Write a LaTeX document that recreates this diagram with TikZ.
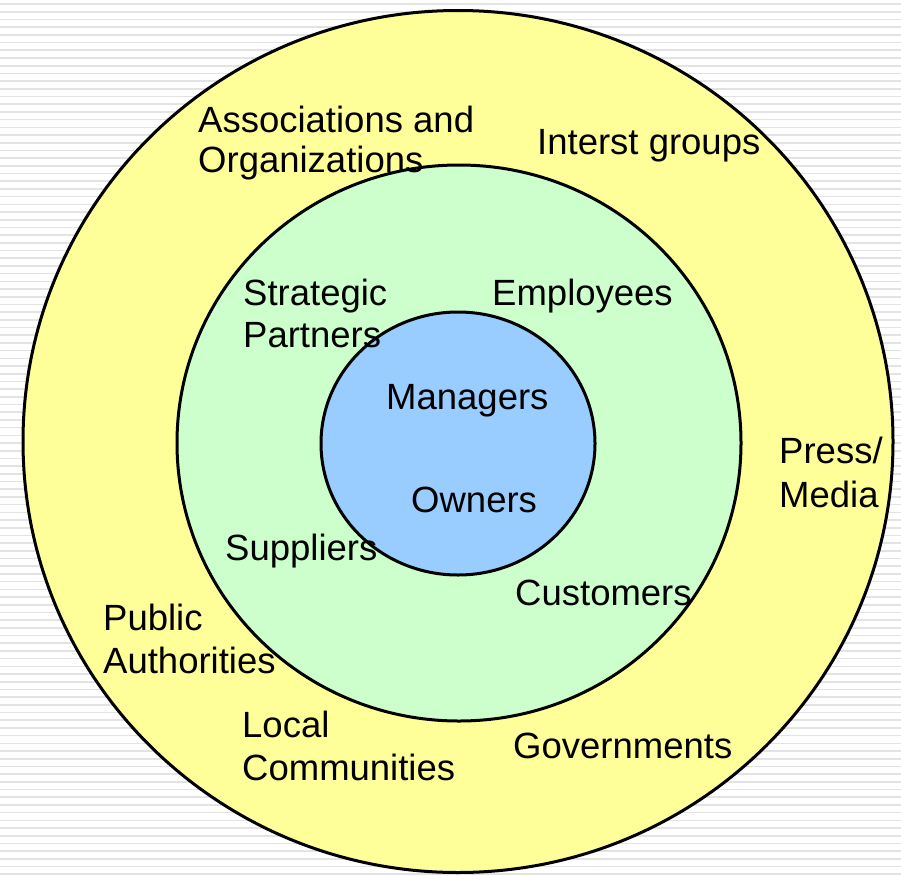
\documentclass[tikz,border=0pt]{standalone}
\usepackage{fontspec}
\setmainfont{Liberation Sans}
\definecolor{outerY}{HTML}{FFFF99}
\definecolor{midG}{HTML}{CCFFCC}
\definecolor{innerB}{HTML}{99CCFF}
\definecolor{stripe}{HTML}{E3E3E3}
\begin{document}
\begin{tikzpicture}[x=1pt,y=-1pt,
  ring/.style={draw=black,line width=3pt},
  lbl/.style={anchor=base west,inner sep=0pt,font=\fontsize{36.5}{40}\selectfont}]
\useasboundingbox (0,0) rectangle (901,875);
\fill[white] (0,0) rectangle (901,875);
\foreach \i in {0,...,113}{
  \fill[stripe] (0,{3.3+7.7*\i}) rectangle (901,{4.9+7.7*\i});
}
\filldraw[ring,fill=outerY] (458,441.5) ellipse [x radius=435, y radius=431];
\filldraw[ring,fill=midG] (459,443) ellipse [x radius=282, y radius=278];
\filldraw[ring,fill=innerB] (458,443.5) ellipse [x radius=137, y radius=131.5];
% outer ring labels
\node[lbl] (assoc) at (198,132) {Associations and};
\node[lbl] (org) at (198,172) {Organizations};
\node[lbl] (interest) at (537,154) {Interst groups};
\node[lbl] (press) at (779,463) {Press/};
\node[lbl] (media) at (779,507) {Media};
\node[lbl] (public) at (103,630) {Public};
\node[lbl] (auth) at (103,673) {Authorities};
\node[lbl] (local) at (242,737) {Local};
\node[lbl] (comm) at (242,780) {Communities};
\node[lbl] (gov) at (513,758) {Governments};
% middle ring labels
\node[lbl] (strat) at (243,305) {Strategic};
\node[lbl] (partners) at (243,347) {Partners};
\node[lbl] (empl) at (492,305) {Employees};
\node[lbl] (supp) at (225,560) {Suppliers};
\node[lbl] (cust) at (515,605) {Customers};
% inner labels
\node[lbl] (mgr) at (386,409) {Managers};
\node[lbl] (own) at (411,512) {Owners};
\end{tikzpicture}
\end{document}
